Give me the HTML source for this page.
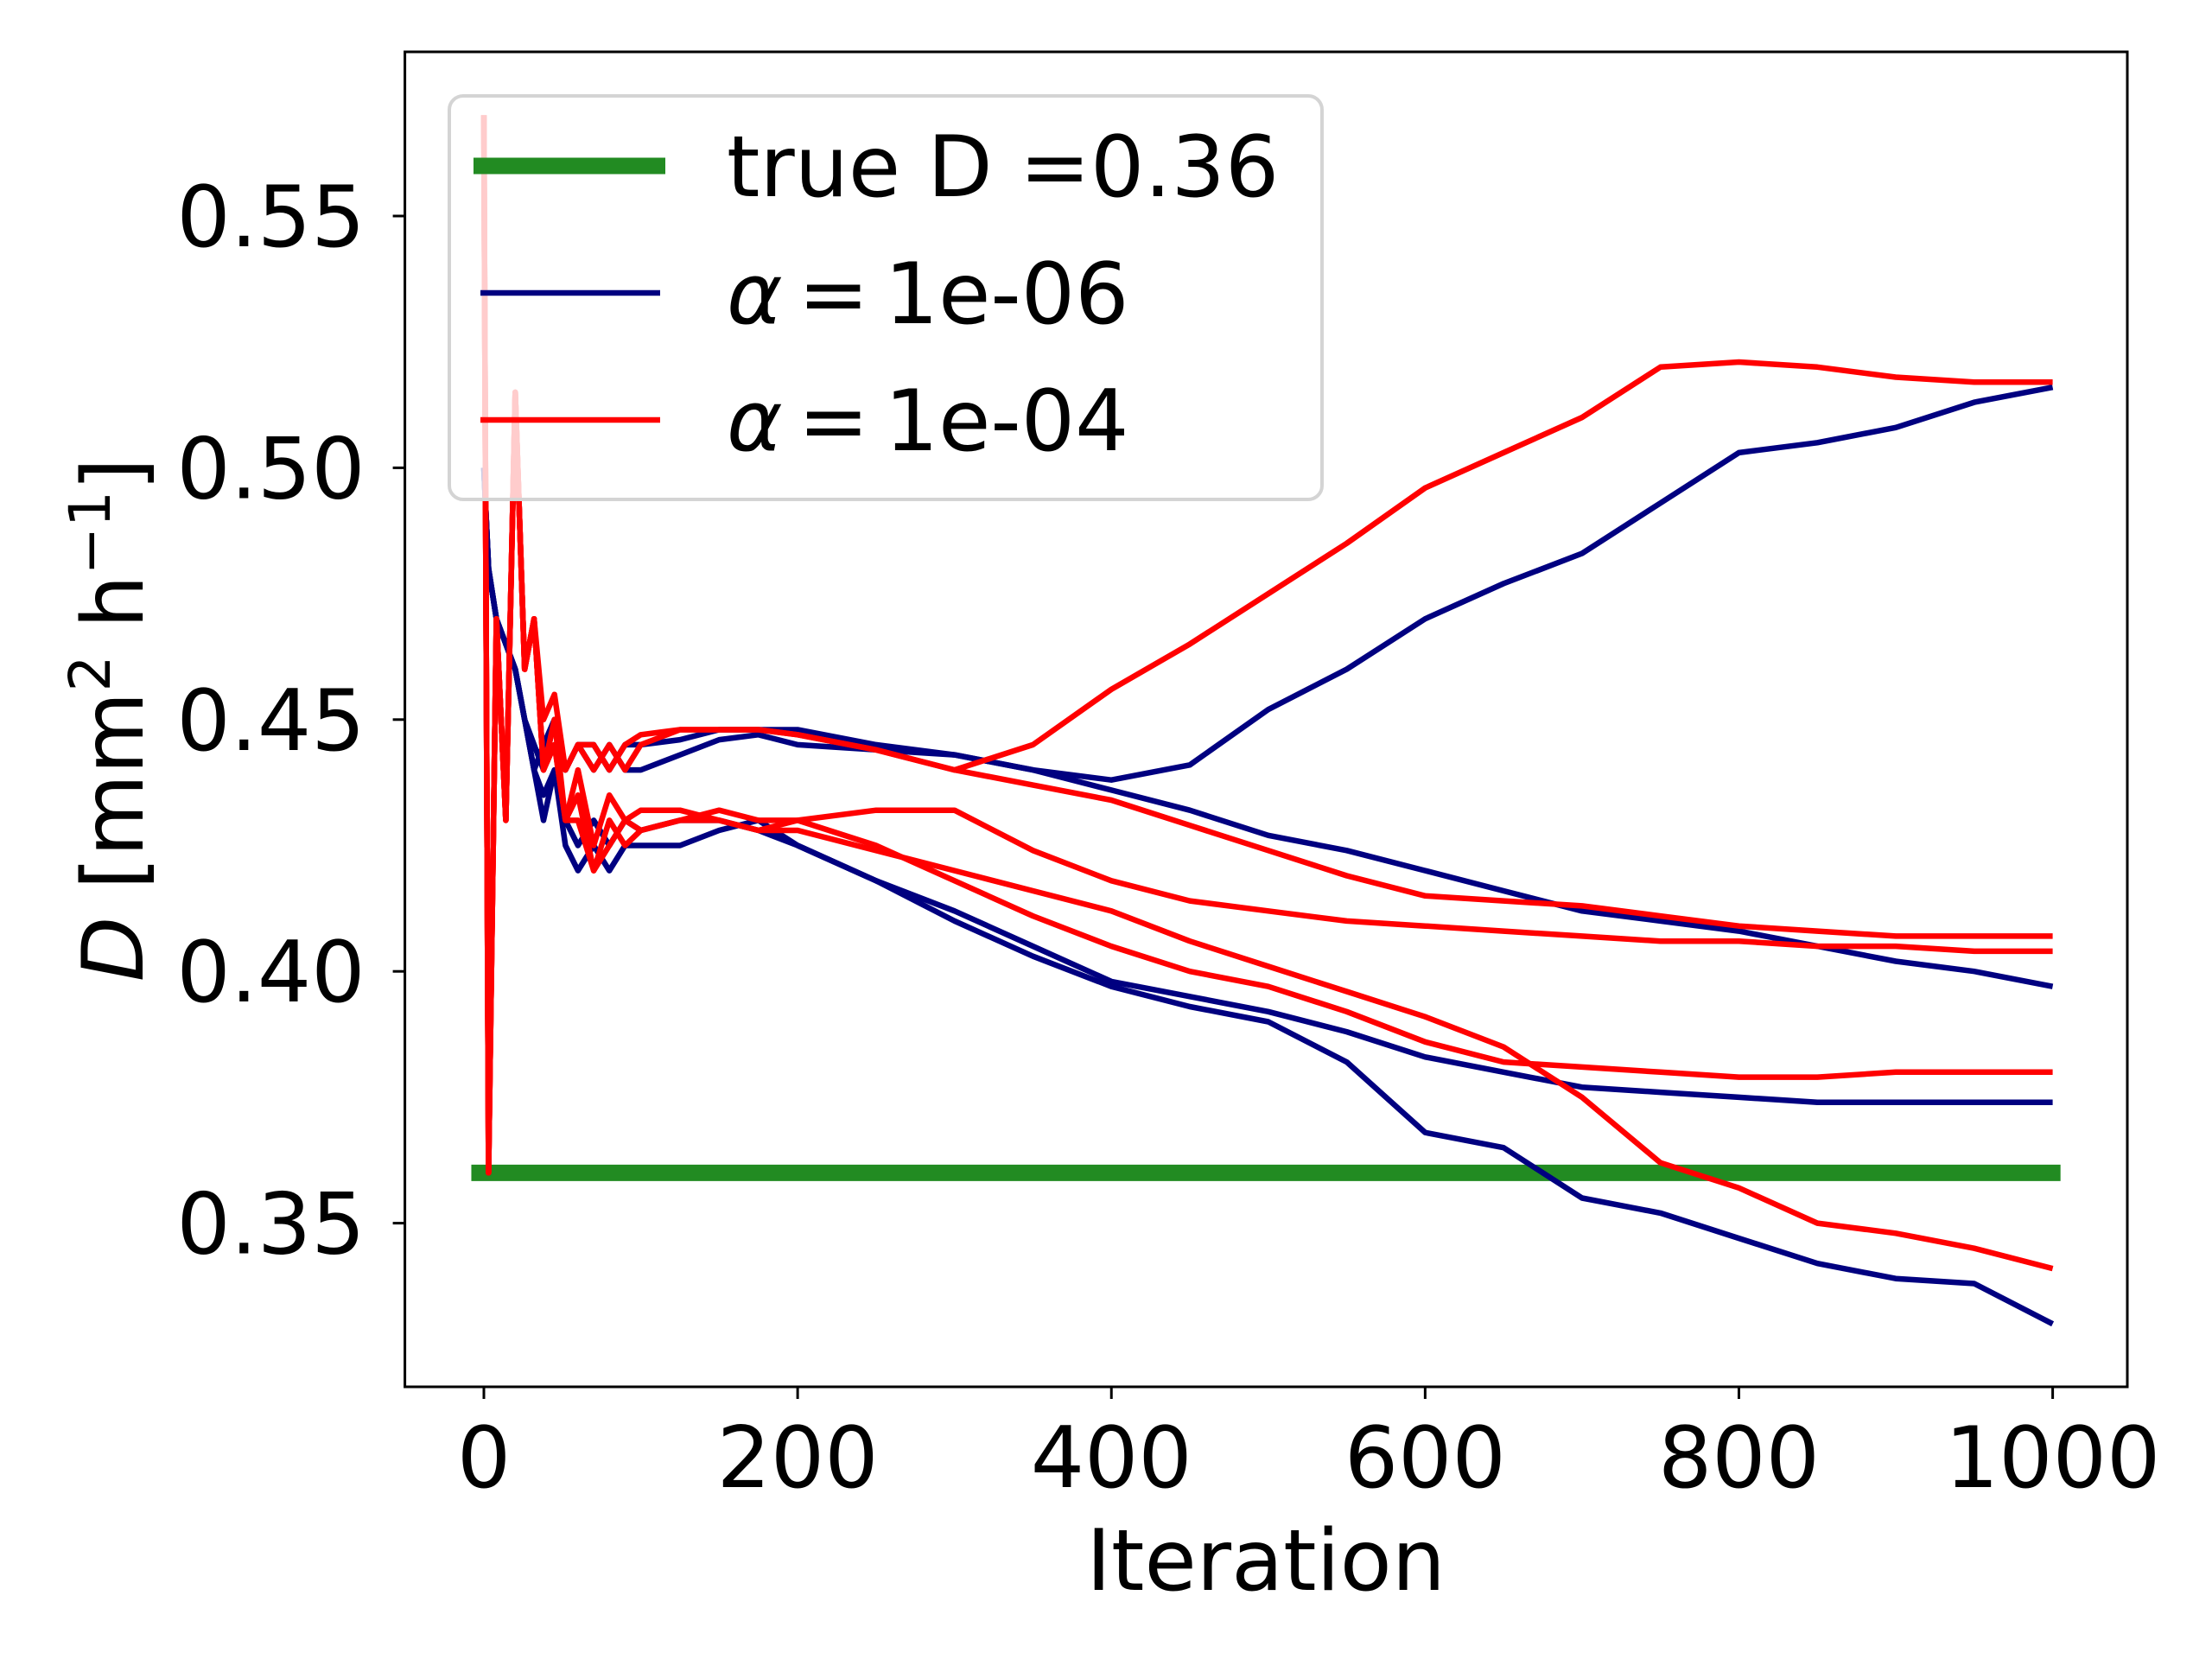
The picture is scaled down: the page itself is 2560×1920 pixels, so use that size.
<!DOCTYPE html>
<html><head><meta charset="utf-8"><style>
html,body{margin:0;padding:0;background:#fff}
svg{display:block;font-family:"DejaVu Sans","Liberation Sans",sans-serif}
</style></head><body>
<svg id="chart" width="2560" height="1920" viewBox="0 0 2560 1920">
<rect x="0" y="0" width="2560" height="1920" fill="#fff"/>
<g id="plot"></g>
<g id="axes"></g>
</svg>
<script>
const iters=[0,3,8,14,20,26,32,38,45,52,60,70,80,90,100,125,150,175,200,250,300,350,400,450,500,550,600,650,700,750,800,850,900,950,1000];
const trueD=0.36;
const blueA=[0.50,0.48,0.47,0.465,0.46,0.45,0.44,0.445,0.45,0.44,0.445,0.44,0.445,0.44,0.440,0.443,0.446,0.447,0.445,0.444,0.443,0.440,0.438,0.441,0.452,0.460,0.470,0.477,0.483,0.493,0.503,0.505,0.508,0.513,0.516];
const blueB=[0.50,0.48,0.47,0.465,0.46,0.45,0.445,0.44,0.45,0.44,0.445,0.445,0.44,0.445,0.445,0.446,0.448,0.448,0.448,0.445,0.443,0.440,0.436,0.432,0.427,0.424,0.420,0.416,0.412,0.410,0.408,0.405,0.402,0.400,0.397];
const blueC=[0.50,0.48,0.47,0.465,0.46,0.45,0.44,0.435,0.44,0.43,0.425,0.43,0.425,0.43,0.428,0.430,0.430,0.428,0.425,0.418,0.412,0.405,0.398,0.395,0.392,0.388,0.383,0.380,0.377,0.376,0.375,0.374,0.374,0.374,0.374];
const blueD=[0.50,0.48,0.47,0.465,0.46,0.45,0.44,0.43,0.44,0.425,0.42,0.425,0.42,0.425,0.425,0.425,0.428,0.430,0.425,0.418,0.410,0.403,0.397,0.393,0.390,0.382,0.368,0.365,0.355,0.352,0.347,0.342,0.339,0.338,0.330];
const redA=[0.57,0.36,0.47,0.43,0.515,0.46,0.47,0.45,0.455,0.44,0.445,0.44,0.445,0.44,0.445,0.448,0.448,0.448,0.447,0.444,0.440,0.445,0.456,0.465,0.475,0.485,0.496,0.503,0.510,0.520,0.521,0.520,0.518,0.517,0.517];
const redB=[0.57,0.36,0.47,0.43,0.515,0.46,0.47,0.44,0.45,0.44,0.445,0.445,0.44,0.445,0.447,0.448,0.448,0.448,0.447,0.444,0.440,0.437,0.434,0.429,0.424,0.419,0.415,0.414,0.413,0.411,0.409,0.408,0.407,0.407,0.407];
const redC=[0.57,0.36,0.47,0.43,0.515,0.46,0.47,0.44,0.445,0.43,0.44,0.425,0.435,0.43,0.432,0.432,0.430,0.428,0.430,0.432,0.432,0.424,0.418,0.414,0.412,0.410,0.409,0.408,0.407,0.406,0.406,0.405,0.405,0.404,0.404];
const redD=[0.57,0.36,0.47,0.43,0.515,0.46,0.47,0.44,0.45,0.43,0.435,0.42,0.43,0.425,0.428,0.430,0.432,0.430,0.430,0.425,0.418,0.411,0.405,0.400,0.397,0.392,0.386,0.382,0.381,0.380,0.379,0.379,0.380,0.380,0.380];
const redE=[0.57,0.36,0.47,0.43,0.515,0.46,0.47,0.44,0.445,0.43,0.43,0.42,0.425,0.43,0.428,0.430,0.430,0.428,0.428,0.424,0.420,0.416,0.412,0.406,0.401,0.396,0.391,0.385,0.375,0.362,0.357,0.350,0.348,0.345,0.341];
const xTicks=[0,200,400,600,800,1000];
const yTicks=[0.35,0.40,0.45,0.50,0.55];
const yTickLabels=["0.35","0.40","0.45","0.50","0.55"];

const NS="http://www.w3.org/2000/svg";
const X0=468.6,X1=2462,Y0=60,Y1=1605;
function xs(v){return 560+(v-0)*(2375.6-560)/1000;}
function ys(v){return 1415.6-(v-0.35)*(1415.6-250)/0.20;}
function mk(tag,attrs,parent){const e=document.createElementNS(NS,tag);for(const k in attrs)e.setAttribute(k,attrs[k]);parent.appendChild(e);return e;}
const plot=document.getElementById('plot');
const axes=document.getElementById('axes');

const defs=mk('defs',{},plot);
const cp=mk('clipPath',{id:'clip'},defs);
mk('rect',{x:X0,y:Y0,width:X1-X0,height:Y1-Y0},cp);
const clipG=mk('g',{'clip-path':'url(#clip)'},plot);

const tl=mk('line',{x1:xs(-8),x2:xs(1005),y1:ys(trueD),y2:ys(trueD),stroke:'#228b22','stroke-width':19},clipG);



function series(vals,color,name){
  const d=vals.map((v,i)=>(i?'L':'M')+xs(iters[i]).toFixed(1)+' '+ys(v).toFixed(1)).join(' ');
  const p=mk('path',{d:d,fill:'none',stroke:color,'stroke-width':6.5,'stroke-linejoin':'round'},clipG);
  
  
}
series(blueA,'#000080','series-alpha-1e-06-run1');
series(blueB,'#000080','series-alpha-1e-06-run2');
series(blueC,'#000080','series-alpha-1e-06-run3');
series(blueD,'#000080','series-alpha-1e-06-run4');
series(redA,'#ff0000','series-alpha-1e-04-run1');
series(redB,'#ff0000','series-alpha-1e-04-run2');
series(redC,'#ff0000','series-alpha-1e-04-run3');
series(redD,'#ff0000','series-alpha-1e-04-run4');
series(redE,'#ff0000','series-alpha-1e-04-run5');

const fr=mk('rect',{x:X0,y:Y0,width:X1-X0,height:Y1-Y0,fill:'none',stroke:'#000','stroke-width':3},axes);



xTicks.forEach(t=>{
  const x=xs(t);
  const l=mk('line',{x1:x,x2:x,y1:Y1,y2:Y1+14,stroke:'#000','stroke-width':3},axes);
  
  
  const tx=mk('text',{x:x,y:Y1+116,'font-size':98,'text-anchor':'middle',fill:'#000'},axes);
  tx.textContent=String(t);
  
  
});
yTicks.forEach((t,i)=>{
  const y=ys(t);
  const l=mk('line',{x1:X0-14,x2:X0,y1:y,y2:y,stroke:'#000','stroke-width':3},axes);
  
  
  const tx=mk('text',{x:X0-46,y:y+35,'font-size':98,'text-anchor':'end',fill:'#000'},axes);
  tx.textContent=yTickLabels[i];
  
  
});
</script>
<svg style="position:absolute;left:0;top:0" width="2560" height="1920">
<text x="1465" y="1840" font-size="98" text-anchor="middle" font-family="DejaVu Sans, Liberation Sans, sans-serif">Iteration</text>
<text transform="translate(165,833) rotate(-90)" font-size="98" text-anchor="middle" font-family="DejaVu Sans, Liberation Sans, sans-serif"><tspan font-style="italic">D</tspan> [mm<tspan font-size="66" dy="-38">2</tspan><tspan dy="38"> h</tspan><tspan font-size="66" dy="-38">−1</tspan><tspan dy="38">]</tspan></text>
<g>
<rect x="520" y="111" width="1010" height="467" rx="16" fill="#fff" fill-opacity="0.8" stroke="#d4d4d4" stroke-width="4"/>
<line x1="548" x2="770" y1="192" y2="192" stroke="#228b22" stroke-width="19"/>
<text x="841" y="227" font-size="98" font-family="DejaVu Sans, Liberation Sans, sans-serif">true D =0.36</text>
<line x1="556" x2="764" y1="339" y2="339" stroke="#000080" stroke-width="6.5"/>
<text x="841" y="374" font-size="98" font-family="DejaVu Sans, Liberation Sans, sans-serif"><tspan font-style="italic">α</tspan><tspan dx="18">=</tspan><tspan dx="18">1e-06</tspan></text>
<line x1="556" x2="764" y1="486" y2="486" stroke="#ff0000" stroke-width="6.5"/>
<text x="841" y="521" font-size="98" font-family="DejaVu Sans, Liberation Sans, sans-serif"><tspan font-style="italic">α</tspan><tspan dx="18">=</tspan><tspan dx="18">1e-04</tspan></text>
</g>
</svg>
</body></html>
